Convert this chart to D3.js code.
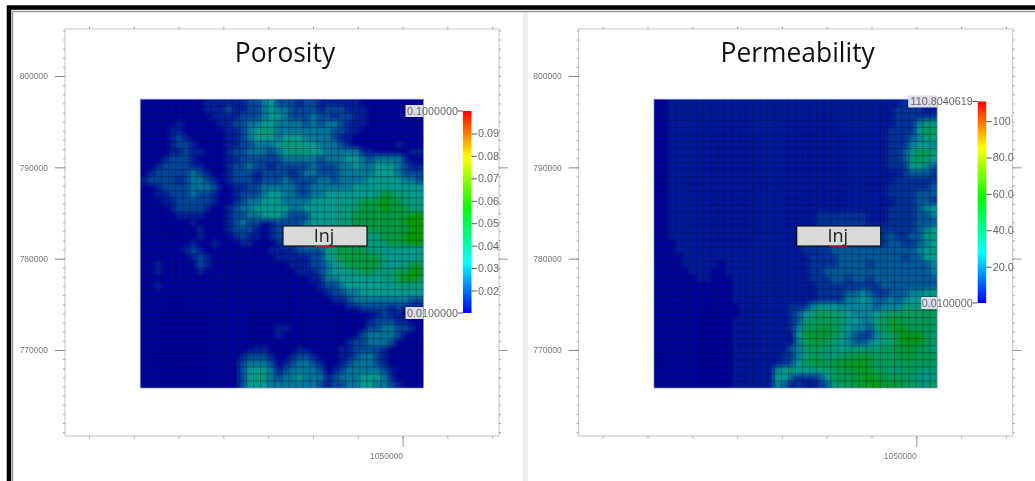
<!DOCTYPE html>
<html>
<head>
<meta charset="utf-8">
<style>
  body { margin: 0; background: #fff; }
  svg { display: block; filter: blur(0.4px); }
  .tick-label { font-family: "Liberation Sans", sans-serif; font-size: 8.5px; fill: #777; }
  .bar-label { font-family: "Liberation Sans", sans-serif; font-size: 10.8px; fill: #666; }
  .title { font-family: "Open Sans", sans-serif; font-size: 26.4px; fill: #111; text-anchor: middle; }
  .inj { font-family: "Open Sans", sans-serif; font-size: 18px; fill: #222; text-anchor: middle; }
</style>
</head>
<body>
<script src="https://cdn.jsdelivr.net/npm/d3@7"></script>
<script>
// each digit picks its value out of the levels array
const porosityLevels = [0.01, 0.014, 0.02, 0.027, 0.034, 0.038, 0.047, 0.056];
const porosityRows = [
  "0000000001 1111122342 2212211111 1000000000",
  "0000000001 1121122343 3222212221 1100000000",
  "0000000000 1111222344 3222322122 1100000000",
  "0000010000 0112233443 3332323321 1100000000",
  "0000110000 0011234553 3333333221 1000000000",
  "0000121000 0011234443 4443333211 0000000000",
  "0000122100 0011223334 5554433321 0000001000",
  "0000112110 0012233323 4555443333 3110000011",
  "0001222100 0011222222 3333323334 4323333100",
  "0012222110 0012232212 2222322233 4334443211",
  "0122222321 0012221222 2123322233 3334443222",
  "1222212332 1012221222 3222233233 3344444332",
  "0012222333 2001122333 3322333333 4444444444",
  "0011222322 1001222344 3322334444 4445665544",
  "0001122222 1001233444 3333444444 5666766555",
  "0000122221 0012334444 4334444455 5666766655",
  "0000011110 0012233444 3222444455 6666666677",
  "0000000100 0012322012 2223444455 6666666777",
  "0000000010 0012221012 2224444555 5566666677",
  "0000000010 0001211012 2234444555 5555666777",
  "0000000100 1000110001 2234455666 5555566677",
  "0000001210 0000000011 1122225566 6655444444",
  "0000000121 0000000001 1111224566 6666544445",
  "0010000021 0000000000 0111223456 6666544566",
  "0010000010 0000000000 0011123445 5665556677",
  "0000000000 0000000000 0000113344 4444556776",
  "0010000000 0000000000 0000012234 4444445555",
  "0000000000 0000000000 0000001223 3444444444",
  "0000000000 0000000000 0000000112 3333333322",
  "0000000000 0000000000 0000000001 1222212111",
  "0000000000 0000000000 0000000000 0001211000",
  "0000000000 0000000000 0000000000 0012221100",
  "0000000000 0000000001 1000000000 0022332210",
  "0000000000 0000000001 0000000000 0233332000",
  "0000000000 0000000000 0000000001 2233320000",
  "0000000000 0000001100 0010000011 2222100000",
  "0000000000 0000122210 0122100011 2332100000",
  "0000000000 0000233320 1233210012 3332100000",
  "0000000000 0000244431 2333320123 3333210000",
  "0000000000 0000245532 3343331233 3444310000",
  "0000000000 0000244433 3333321223 3443321000"
];

const permeabilityLevels = [0.01, 3.5, 9, 16, 23, 29, 35, 41, 47, 54];
const permeabilityRows = [
  "0011111111 1111111111 1111111111 1111122200",
  "0011111111 1111111111 1111111111 1111222211",
  "0011111111 1111111111 1111111111 1111222222",
  "0011111111 1111111111 1111111111 1111222466",
  "0011111111 1111111111 1111111111 1112222577",
  "0011111111 1111111111 1111111111 1112223466",
  "0011111111 1111111111 1111111111 1112224554",
  "0011111111 1111111111 1111111111 1112235776",
  "0011111111 1111111111 1111111111 1112236775",
  "0011111111 1111111111 1111111111 1112225643",
  "0011111111 1111111111 1111111111 1111123332",
  "0011111111 1111111111 1111111111 1111222222",
  "0011111111 1111111111 1111111111 1112222223",
  "0011111111 1111111111 1111111111 1112222333",
  "0011111111 1111111111 1111111111 1111222332",
  "0011111111 1111111111 1111111111 1112222345",
  "0011111111 1111111111 1112222222 1112222334",
  "0011111111 1111111111 1112222222 1112222333",
  "0011111111 1111111111 1112223322 2222222345",
  "0011111111 1111111111 1222233322 2223223366",
  "0001111111 1111111111 1222233322 2223322345",
  "0001111111 1111111111 1222233333 3333333456",
  "0000111111 1111111111 1122223333 3333323355",
  "0000111110 1111111111 1122223333 2333333334",
  "0000011100 1111111111 1122333333 3333333334",
  "0000001100 0111111111 1122233233 2333333333",
  "0000000000 0111111111 1112222222 2233333333",
  "0000000000 0111111111 1112222334 3223334456",
  "0000000000 0111111111 1112222445 4334345556",
  "0000000000 0011111112 2246554444 4344466677",
  "0000000000 0011111112 3567766544 4567777777",
  "0000000000 0111111112 3677776554 4678877777",
  "0000000000 0111111112 4778876544 3678987777",
  "0000000000 0111111111 5888876432 2467899976",
  "0000000000 0111111111 4788765433 4566899977",
  "0000000000 0111111113 4677665666 6677888776",
  "0000000000 0111111122 4677667788 8777788777",
  "0000000000 0111111123 5788788999 8777777777",
  "0000000000 0111111456 5556677889 8776677666",
  "0000000000 0111111553 2223577788 9887776656",
  "0000000000 0111111431 2112367788 9988877667"
];

const yTicks = [800000, 790000, 780000, 770000];
const yLabels = ["800000", "790000", "780000", "770000"];
const xTicks = [1050000];
const xLabels = ["1050000"];
const xMinorTicks = [1015000, 1020000, 1025000, 1030000, 1035000, 1040000, 1045000, 1050000, 1055000, 1060000];
const yMinorTicks = d3.range(761000, 805001, 1000);

const xDomain = [1012321, 1060759];
const yDomain = [760580, 805148];
const mapXExtent = [1020725, 1052321];
const mapYExtent = [765838, 797459];

const porosityBarTicks = [0.02, 0.03, 0.04, 0.05, 0.06, 0.07, 0.08, 0.09];
const porosityBarLabels = ["0.02", "0.03", "0.04", "0.05", "0.06", "0.07", "0.08", "0.09"];
const permeabilityBarTicks = [20, 40, 60, 80, 100];
const permeabilityBarLabels = ["20.0", "40.0", "60.0", "80.0", "100"];

const rampStops = [0, 0.25, 0.52, 0.77, 1];
const rampColors = ["#0000ff", "#00ffff", "#00ff00", "#ffff00", "#ff0000"];

const w = 1035;
const h = 481;
const ramp = d3.scaleLinear().domain(rampStops).range(rampColors);

const svg = d3.select("body").append("svg").attr("width", w).attr("height", h);
const defs = svg.append("defs");

defs.append("filter").attr("id", "soft")
    .attr("x", "-5%").attr("y", "-5%").attr("width", "110%").attr("height", "110%")
  .append("feGaussianBlur").attr("stdDeviation", 2);

const gradient = defs.append("linearGradient").attr("id", "rainbow")
    .attr("x1", 0).attr("y1", 1).attr("x2", 0).attr("y2", 0);
rampStops.forEach((s, i) => {
  gradient.append("stop").attr("offset", s).attr("stop-color", rampColors[i]);
});

// slide frame
svg.append("rect").attr("x", 523).attr("y", 12).attr("width", 5).attr("height", h - 12).attr("fill", "#eeeeee");
svg.append("path").attr("d", `M9,${h}V7.5H${w}`).attr("fill", "none").attr("stroke", "#000").attr("stroke-width", 4.5);
svg.append("path").attr("d", `M12.5,${h}V11.5H${w}`).attr("fill", "none").attr("stroke", "#999").attr("stroke-width", 1.5);

function drawPanel(cfg) {
  const g = svg.append("g").attr("transform", `translate(${cfg.dx},0)`);
  const x = d3.scaleLinear().domain(xDomain).range([65, 499]);
  const y = d3.scaleLinear().domain(yDomain).range([436, 29]);

  g.append("rect")
    .attr("x", x.range()[0]).attr("y", y.range()[1])
    .attr("width", x.range()[1] - x.range()[0]).attr("height", y.range()[0] - y.range()[1])
    .attr("fill", "#fff").attr("stroke", "#c4c4c4");

  // minor ticks, all four sides
  const minorY = [d3.axisLeft(y), d3.axisRight(y)];
  minorY.forEach((a, i) => {
    g.append("g").attr("transform", `translate(${x.range()[i]},0)`)
      .call(a.tickValues(yMinorTicks).tickSize(2).tickFormat(""))
      .call(s => s.select(".domain").remove())
      .call(s => s.selectAll("line").attr("stroke", "#a5a5a5"));
  });
  const minorX = [d3.axisTop(x), d3.axisBottom(x)];
  minorX.forEach((a, i) => {
    g.append("g").attr("transform", `translate(0,${y.range()[1 - i]})`)
      .call(a.tickValues(xMinorTicks).tickSize(2.5).tickFormat(""))
      .call(s => s.select(".domain").remove())
      .call(s => s.selectAll("line").attr("stroke", "#a5a5a5"));
  });

  // major ticks and labels
  g.append("g").attr("transform", `translate(${x.range()[0]},0)`)
    .call(d3.axisLeft(y).tickValues(yTicks).tickSize(10).tickPadding(7).tickFormat((d, i) => yLabels[i]))
    .call(s => s.select(".domain").remove())
    .call(s => s.selectAll("line").attr("stroke", "#888"))
    .call(s => s.selectAll("text").attr("class", "tick-label").attr("font-family", null).attr("font-size", null));

  g.append("g").attr("transform", `translate(${x.range()[1]},0)`)
    .call(d3.axisRight(y).tickValues(yTicks.slice(1)).tickSize(9).tickFormat(""))
    .call(s => s.select(".domain").remove())
    .call(s => s.selectAll("line").attr("stroke", "#999"));

  g.append("g").attr("transform", `translate(0,${y.range()[0]})`)
    .call(d3.axisBottom(x).tickValues(xTicks).tickSize(11).tickPadding(6).tickFormat((d, i) => xLabels[i]))
    .call(s => s.select(".domain").remove())
    .call(s => s.selectAll("line").attr("stroke", "#999"))
    .call(s => s.selectAll("text").attr("class", "tick-label")
      .attr("font-family", null).attr("font-size", null).attr("text-anchor", "end"));

  // the gridded map
  const cells = cfg.rows.map(r => r.replace(/ /g, "").split("").map(d => cfg.levels[+d]));
  const nCols = cells[0].length;
  const nRows = cells.length;
  const mapX = d3.scaleBand().domain(d3.range(nCols)).range(mapXExtent.map(x));
  const mapY = d3.scaleBand().domain(d3.range(nRows)).range([mapYExtent[1], mapYExtent[0]].map(y));
  const toT = d3.scaleLinear().domain(cfg.barDomain).range([0, 1]);
  const cellColor = v => d3.rgb(ramp(toT(v))).darker(1.4).formatHex();

  const clipId = `clip-${Math.round(cfg.dx)}`;
  defs.append("clipPath").attr("id", clipId).append("rect")
    .attr("x", mapX.range()[0]).attr("y", mapY.range()[0])
    .attr("width", mapX.range()[1] - mapX.range()[0]).attr("height", mapY.range()[1] - mapY.range()[0]);

  // edge cells run past the clip so the blur does not fade the border
  const bleed = 7;
  const map = g.append("g").attr("clip-path", `url(#${clipId})`).append("g").attr("filter", "url(#soft)");
  map.selectAll("g").data(cells).enter().append("g")
    .each(function (row, r) {
      const top = r === 0 ? bleed : 0;
      const bottom = r === nRows - 1 ? bleed : 0;
      d3.select(this).selectAll("rect").data(row).enter().append("rect")
        .attr("x", (d, i) => mapX(i) - (i === 0 ? bleed : 0))
        .attr("y", mapY(r) - top)
        .attr("width", (d, i) => mapX.bandwidth() + 0.5 + (i === 0 || i === nCols - 1 ? bleed : 0))
        .attr("height", mapY.bandwidth() + 0.5 + top + bottom)
        .attr("fill", cellColor);
    });

  const grid = g.append("g").attr("clip-path", `url(#${clipId})`).attr("stroke", "#00141c").attr("stroke-opacity", 0.38);
  grid.selectAll(".vline").data(d3.range(1, nCols)).enter().append("line")
    .attr("x1", d => mapX(d)).attr("x2", d => mapX(d))
    .attr("y1", mapY.range()[0]).attr("y2", mapY.range()[1]);
  grid.selectAll(".hline").data(d3.range(1, nRows)).enter().append("line")
    .attr("y1", d => mapY(d)).attr("y2", d => mapY(d))
    .attr("x1", mapX.range()[0]).attr("x2", mapX.range()[1]);

  g.append("rect")
    .attr("x", mapX.range()[0]).attr("y", mapY.range()[0])
    .attr("width", mapX.range()[1] - mapX.range()[0]).attr("height", mapY.range()[1] - mapY.range()[0])
    .attr("fill", "none").attr("stroke", "#7d84b0").attr("stroke-width", 0.7);

  // title
  g.append("text").attr("class", "title").attr("x", cfg.titleX).attr("y", 62).text(cfg.title);

  // colour bar
  const bar = d3.scaleLinear().domain(cfg.barDomain).range(cfg.barRange);
  const barG = g.append("g");
  barG.append("rect")
    .attr("x", cfg.barX).attr("width", 8.5)
    .attr("y", bar(cfg.barDomain[1])).attr("height", bar(cfg.barDomain[0]) - bar(cfg.barDomain[1]))
    .attr("fill", "url(#rainbow)");

  g.append("g").attr("transform", `translate(${cfg.barX + 8.5},0)`)
    .call(d3.axisRight(bar).tickValues(cfg.barTicks).tickSize(5.5).tickPadding(1).tickFormat((d, i) => cfg.barLabels[i]))
    .call(s => s.select(".domain").remove())
    .call(s => s.selectAll("line").attr("stroke", "#555"))
    .call(s => s.selectAll("text").attr("class", "bar-label").attr("font-family", null).attr("font-size", null));

  // min and max labels with their tiles over the map
  const ends = [
    { v: cfg.barDomain[1], text: cfg.maxLabel, left: cfg.maxTileX },
    { v: cfg.barDomain[0], text: cfg.minLabel, left: cfg.minTileX }
  ];
  ends.forEach(e => {
    const yy = bar(e.v);
    g.append("rect")
      .attr("x", e.left).attr("y", yy - 6)
      .attr("width", mapX.range()[1] - e.left).attr("height", 12)
      .attr("fill", "#dcdde8");
    g.append("line")
      .attr("x1", cfg.barX - 5).attr("x2", cfg.barX)
      .attr("y1", yy).attr("y2", yy).attr("stroke", "#555");
    g.append("text").attr("class", "bar-label")
      .attr("x", cfg.barX - 5).attr("y", yy + 3.8)
      .attr("text-anchor", "end").text(e.text);
  });

  // injector label
  g.append("rect").attr("x", 283).attr("y", 226).attr("width", 84).attr("height", 20)
    .attr("fill", "#d9d9d9").attr("stroke", "#111").attr("stroke-width", 1.2);
  g.append("text").attr("class", "inj").attr("x", 324).attr("y", 242).text("Inj");
  const squiggle = d3.line().curve(d3.curveBasis);
  const wiggle = d3.range(0, 10).map(i => [315 + i * 2, 245.5 + (i % 2) * 1.8]);
  g.append("path").attr("d", squiggle(wiggle)).attr("fill", "none").attr("stroke", "#e02020").attr("stroke-width", 1);
}

drawPanel({
  dx: 0, title: "Porosity", titleX: 285,
  rows: porosityRows, levels: porosityLevels,
  barDomain: [0.01, 0.1], barRange: [313, 111], barX: 463,
  barTicks: porosityBarTicks, barLabels: porosityBarLabels,
  maxLabel: "0.1000000", minLabel: "0.0100000", maxTileX: 405.5, minTileX: 405.5
});

drawPanel({
  dx: 513.7, title: "Permeability", titleX: 284,
  rows: permeabilityRows, levels: permeabilityLevels,
  barDomain: [0.01, 110.8040619], barRange: [303, 101.5], barX: 464,
  barTicks: permeabilityBarTicks, barLabels: permeabilityBarLabels,
  maxLabel: "110.8040619", minLabel: "0.0100000", maxTileX: 394.5, minTileX: 407.5
});
</script>
</body>
</html>
